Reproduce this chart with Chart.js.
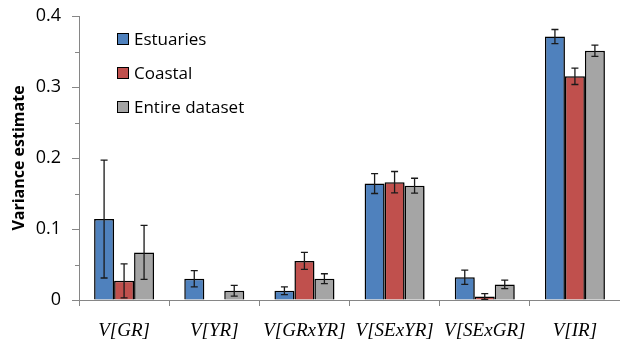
<!DOCTYPE html>
<html><head><meta charset="utf-8">
<script src="https://cdn.jsdelivr.net/npm/chart.js@4/dist/chart.umd.min.js"></script>
<style>html,body{margin:0;padding:0;background:#fff;overflow:hidden}</style>
</head><body>
<canvas id="c" width="620" height="347"></canvas>
<script>
const categories = ['V[GR]', 'V[YR]', 'V[GRxYR]', 'V[SExYR]', 'V[SExGR]', 'V[IR]'];
const seriesNames = ['Estuaries', 'Coastal', 'Entire dataset'];
const estuaries = [0.114, 0.030, 0.013, 0.164, 0.032, 0.371];
const estuariesErr = [0.083, 0.0115, 0.0055, 0.014, 0.010, 0.010];
const coastal = [0.027, null, 0.055, 0.166, 0.005, 0.315];
const coastalErr = [0.024, null, 0.012, 0.015, 0.004, 0.0115];
const entire = [0.067, 0.013, 0.030, 0.161, 0.022, 0.351];
const entireErr = [0.038, 0.0075, 0.007, 0.0105, 0.006, 0.008];
const yTickValues = [0, 0.1, 0.2, 0.3, 0.4];
const yMinorTicks = [0.05, 0.15, 0.25, 0.35];

const colors = ['#4F81BD', '#C0504D', '#A5A5A5'];
const errs = [estuariesErr, coastalErr, entireErr];
const AXIS = '#868686';

const shadowPlugin = {
  id: 'shadow',
  beforeDatasetDraw(chart) {
    const ctx = chart.ctx;
    ctx.save();
    ctx.shadowColor = 'rgba(0,0,0,0.28)';
    ctx.shadowOffsetX = 1.5;
    ctx.shadowOffsetY = 1.5;
    ctx.shadowBlur = 2;
  },
  afterDatasetDraw(chart) { chart.ctx.restore(); }
};

const errorBarPlugin = {
  id: 'errorBars',
  afterDatasetsDraw(chart) {
    const ctx = chart.ctx;
    const y = chart.scales.y;
    ctx.save();
    chart.data.datasets.forEach((ds, di) => {
      const meta = chart.getDatasetMeta(di);
      meta.data.forEach((bar, i) => {
        const v = ds.data[i], e = errs[di][i];
        if (v == null || e == null) return;
        const x = bar.x;
        const yt = y.getPixelForValue(v + e);
        const yb = y.getPixelForValue(Math.max(0, v - e));
        ctx.strokeStyle = '#1a1a1a';
        ctx.lineWidth = 1.3;
        ctx.beginPath();
        ctx.moveTo(x, yt); ctx.lineTo(x, yb);
        ctx.moveTo(x - 3.5, yt); ctx.lineTo(x + 3.5, yt);
        ctx.moveTo(x - 3.5, yb); ctx.lineTo(x + 3.5, yb);
        ctx.stroke();
      });
    });
    ctx.restore();
  }
};

const minorTickPlugin = {
  id: 'minorTicks',
  afterDraw(chart) {
    const ctx = chart.ctx;
    const y = chart.scales.y;
    const x0 = chart.chartArea.left;
    ctx.save();
    ctx.strokeStyle = AXIS;
    ctx.lineWidth = 1;
    yMinorTicks.forEach(v => {
      const py = Math.round(y.getPixelForValue(v)) + 0.5;
      ctx.beginPath();
      ctx.moveTo(x0 - 4, py); ctx.lineTo(x0, py);
      ctx.stroke();
    });
    ctx.restore();
  }
};

const legendPlugin = {
  id: 'customLegend',
  afterDraw(chart) {
    const ctx = chart.ctx;
    const left = chart.chartArea.left + 38;
    const top = chart.chartArea.top + 23;
    ctx.save();
    ctx.font = '17px "Open Sans"';
    ctx.textBaseline = 'middle';
    chart.data.datasets.forEach((ds, i) => {
      const cy = top + i * 34;
      ctx.fillStyle = ds.backgroundColor;
      ctx.fillRect(left, cy - 6, 12, 12);
      ctx.strokeStyle = '#000';
      ctx.lineWidth = 1;
      ctx.strokeRect(left + 0.5, cy - 5.5, 11, 11);
      ctx.fillStyle = '#000';
      ctx.fillText(ds.label, left + 17, cy + 1);
    });
    ctx.restore();
  }
};

new Chart(document.getElementById('c'), {
  type: 'bar',
  data: {
    labels: categories,
    datasets: [
      { label: seriesNames[0], data: estuaries, backgroundColor: colors[0] },
      { label: seriesNames[1], data: coastal, backgroundColor: colors[1] },
      { label: seriesNames[2], data: entire, backgroundColor: colors[2] }
    ].map(d => Object.assign(d, { borderColor: '#000', borderWidth: 1.5, borderSkipped: 'bottom', categoryPercentage: 0.665, barPercentage: 1.0 }))
  },
  options: {
    responsive: false,
    animation: false,
    events: [],
    layout: { padding: { top: 16, right: 0, left: 0, bottom: 0 } },
    plugins: { legend: { display: false }, tooltip: { enabled: false } },
    scales: {
      x: {
        grid: { display: true, drawOnChartArea: false, drawTicks: true, tickLength: 6, color: AXIS, offset: true },
        border: { display: true, color: AXIS },
        ticks: { color: '#000', font: { family: '"Liberation Serif"', style: 'italic', size: 19 }, padding: 14, maxRotation: 0, autoSkip: false },
        afterFit: s => { s.height = 47; s.paddingLeft = 0; s.paddingRight = 0; }
      },
      y: {
        min: 0, max: 0.4,
        afterBuildTicks: s => { s.ticks = yTickValues.map(v => ({ value: v })); },
        grid: { display: true, drawOnChartArea: false, drawTicks: true, tickLength: 7, color: AXIS },
        border: { display: true, color: AXIS },
        ticks: { color: '#000', font: { family: '"Open Sans"', size: 18 }, padding: 11, callback: v => v === 0 ? '0' : String(Math.round(v * 10) / 10) },
        title: { display: true, text: 'Variance estimate', color: '#000', font: { family: '"Open Sans"', size: 16, weight: 'bold' }, padding: { top: 10, bottom: 0 } },
        afterFit: s => { s.width = 79; s.paddingTop = 0; s.paddingBottom = 0; }
      }
    }
  },
  plugins: [shadowPlugin, errorBarPlugin, minorTickPlugin, legendPlugin]
});
</script>
</body></html>
